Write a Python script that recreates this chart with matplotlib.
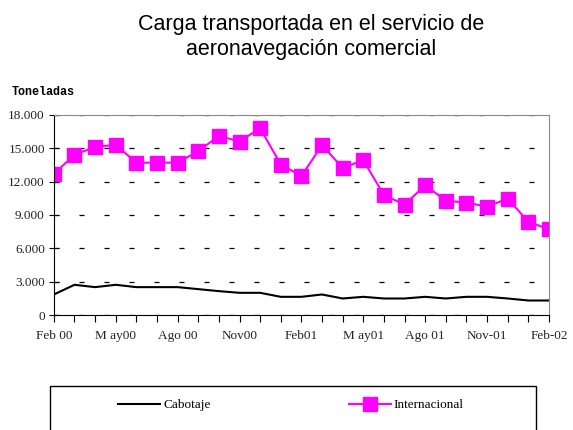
import matplotlib.pyplot as plt
from matplotlib.patches import Rectangle
from matplotlib.ticker import FuncFormatter

months = ["Feb 00", "Mar 00", "Abr 00", "May 00", "Jun 00", "Jul 00", "Ago 00",
          "Sep 00", "Oct 00", "Nov 00", "Dic 00", "Ene 01", "Feb 01", "Mar 01",
          "Abr 01", "May 01", "Jun 01", "Jul 01", "Ago 01", "Sep 01", "Oct 01",
          "Nov 01", "Dic 01", "Ene 02", "Feb 02"]
tick_labels = ["Feb 00", "M ay00", "Ago 00", "Nov00", "Feb01", "M ay01",
               "Ago 01", "Nov-01", "Feb-02"]
cabotaje = [1860, 2730, 2520, 2730, 2520, 2520, 2520, 2340, 2160, 2010, 2010,
            1650, 1650, 1860, 1500, 1650, 1500, 1500, 1650, 1500, 1650, 1650,
            1500, 1320, 1320]
internacional = [12700, 14400, 15120, 15300, 13700, 13700, 13700, 14730, 16110,
                 15600, 16800, 13530, 12500, 15270, 13230, 13920, 10800, 9930,
                 11670, 10290, 10110, 9750, 10470, 8400, 7710]

fig = plt.figure(figsize=(5.73, 4.30), dpi=100)
ax = fig.add_axes([0.094, 0.267, 0.864, 0.466])

x = list(range(len(months)))
ax.plot(x, cabotaje, color="black", lw=1.5, label="Cabotaje")
ax.plot(x, internacional, color="#ff00ff", lw=1.5, marker="s", markersize=9.5,
        markeredgecolor="#ff00ff", label="Internacional")

ax.set_xlim(0, len(months) - 1)
ax.set_ylim(0, 18000)
ax.set_yticks(range(0, 18001, 3000))
ax.yaxis.set_major_formatter(FuncFormatter(lambda v, p: f"{int(v):,}".replace(",", ".")))
ax.set_xticks(x, minor=True)
ax.set_xticks(x[::3])
ax.set_xticklabels(tick_labels)

for lbl in ax.get_xticklabels() + ax.get_yticklabels():
    lbl.set_fontfamily("Liberation Serif")
    lbl.set_fontsize(9.5)
    lbl.set_color("#222222")

ax.tick_params(axis="x", which="both", direction="out", length=5, width=0.8, pad=6)
ax.tick_params(axis="y", which="major", direction="inout", length=7, width=0.8, pad=3)

ax.yaxis.grid(True, color="black", linestyle=(0, (4, 16)), lw=0.9)
ax.set_axisbelow(True)
for side in ["top", "right"]:
    ax.spines[side].set_color("#888888")
for side in ["left", "bottom"]:
    ax.spines[side].set_color("black")

fig.text(0.02, 0.78, "Toneladas", fontfamily="Liberation Mono", fontweight="bold",
         fontsize=8.5)
fig.text(0.543, 0.967, "Carga transportada en el servicio de\naeronavegación comercial",
         ha="center", va="top", fontfamily="Liberation Sans", fontsize=15.5,
         linespacing=1.25)

# legend box at the bottom, cut off by the figure edge
fig.patches.append(Rectangle((0.087, -0.05), 0.848, 0.152, transform=fig.transFigure,
                             fill=False, edgecolor="black", lw=1))
leg = fig.legend(loc="center", bbox_to_anchor=(0.508, 0.058), ncol=2, frameon=False,
                 columnspacing=10.5, handlelength=3.2, handletextpad=0.2,
                 prop={"family": "Liberation Serif", "size": 9.5})

fig.savefig("out.png", dpi=100)
